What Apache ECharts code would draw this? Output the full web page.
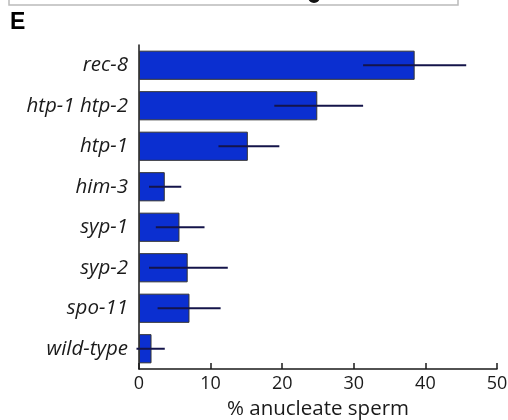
<!DOCTYPE html>
<html><head><meta charset="utf-8">
<script src="https://cdn.jsdelivr.net/npm/echarts@6/dist/echarts.min.js"></script>
<style>html,body{margin:0;padding:0;background:#fff}#c{width:508px;height:420px}</style>
</head><body><div id="c"></div>
<script>
var categories = ['rec-8', 'htp-1 htp-2', 'htp-1', 'him-3', 'syp-1', 'syp-2', 'spo-11', 'wild-type'];
var values = [38.5, 24.9, 15.2, 3.6, 5.65, 6.8, 7.05, 1.75];
var errLow = [31.3, 18.9, 11.1, 1.4, 2.35, 1.4, 2.6, -0.35];
var errHigh = [45.7, 31.3, 19.6, 5.9, 9.15, 12.4, 11.4, 3.6];
var xTicks = [0, 10, 20, 30, 40, 50];
var axisName = '% anucleate sperm';
var panelLabel = 'E';

var errData = categories.map(function (c, i) { return [i, errLow[i], errHigh[i]]; });
var font = 'Open Sans';
var chart = echarts.init(document.getElementById('c'), null, {renderer: 'canvas'});
chart.setOption({
  animation: false,
  backgroundColor: '#fff',
  grid: {left: 139, right: 11, top: 45, bottom: 51, containLabel: false, outerBoundsMode: 'none'},
  xAxis: {
    type: 'value', min: xTicks[0], max: xTicks[xTicks.length - 1], interval: 10,
    splitLine: {show: false},
    axisLine: {show: true, lineStyle: {color: '#1a1a1a', width: 1.5}},
    axisTick: {show: true, inside: true, length: 6, lineStyle: {color: '#1a1a1a', width: 1.5}},
    axisLabel: {fontFamily: font, fontSize: 18, color: '#1a1a1a', margin: 6},
    name: axisName, nameLocation: 'middle', nameGap: 30,
    nameTextStyle: {fontFamily: font, fontSize: 20.5, color: '#1a1a1a'}
  },
  yAxis: {
    type: 'category', data: categories, inverse: true,
    axisLine: {show: true, lineStyle: {color: '#1a1a1a', width: 1.5}},
    axisTick: {show: false},
    axisLabel: {fontFamily: font, fontSize: 20.5, fontStyle: 'italic', color: '#1a1a1a', margin: 11}
  },
  series: [{
    type: 'bar', data: values, barWidth: '72%',
    itemStyle: {color: '#0b2fd0', borderColor: '#333', borderWidth: 1}
  }, {
    type: 'custom', data: errData, encode: {x: [1, 2], y: 0}, z: 5,
    renderItem: function (params, api) {
      var i = api.value(0);
      var p1 = api.coord([api.value(1), i]);
      var p2 = api.coord([api.value(2), i]);
      return {type: 'line', shape: {x1: p1[0], y1: p1[1], x2: p2[0], y2: p2[1]},
        style: {stroke: '#14144a', lineWidth: 2}};
    }
  }],
  graphic: [
    {type: 'rect', shape: {x: 9, y: -20, width: 449, height: 25}, style: {fill: 'none', stroke: '#bbb', lineWidth: 1.5}},
    {type: 'circle', shape: {cx: 314, cy: -3, r: 6}, style: {fill: '#111'}},
    {type: 'text', left: 10, top: 11, style: {text: panelLabel, font: 'bold 23px "Liberation Sans"', fill: '#000'}}
  ]
});
</script></body></html>
